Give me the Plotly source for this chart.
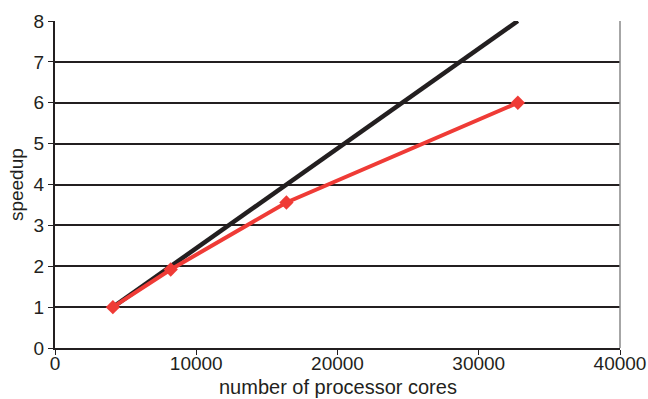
import plotly.graph_objects as go

# Processor core counts and measured / ideal speedup
cores = [4096, 8192, 16384, 32768]
measured_speedup = [1.0, 1.92, 3.56, 6.0]
ideal_cores = [4096, 32768]
ideal_speedup = [1.0, 8.0]

x_ticks = [0, 10000, 20000, 30000, 40000]
y_ticks = [0, 1, 2, 3, 4, 5, 6, 7, 8]

fig = go.Figure()
fig.add_trace(go.Scatter(
    x=ideal_cores, y=ideal_speedup, mode="lines",
    line=dict(color="#231f20", width=4.5), showlegend=False,
))
fig.add_trace(go.Scatter(
    x=cores, y=measured_speedup, mode="lines+markers",
    line=dict(color="#ef3b36", width=4),
    marker=dict(symbol="diamond", size=11, color="#ef3b36"),
    showlegend=False,
))

font_family = "Liberation Sans, Arial, sans-serif"
fig.update_layout(
    width=648, height=399,
    margin=dict(l=55, r=28, t=21, b=51),
    paper_bgcolor="white", plot_bgcolor="white",
    font=dict(family=font_family, color="#231f20", size=19),
    xaxis=dict(
        range=[0, 40000], tickvals=x_ticks, ticktext=[str(v) for v in x_ticks],
        automargin=False,
        showgrid=False, zeroline=False,
        showline=True, linecolor="#231f20", linewidth=2,
        mirror=False, ticks="outside", ticklen=5, tickcolor="#231f20",
        tickfont=dict(size=19), ticklabelstandoff=-8,
    ),
    yaxis=dict(
        range=[0, 8], tickvals=y_ticks,
        automargin=False,
        showgrid=True, gridcolor="#231f20", gridwidth=2,
        zeroline=False,
        showline=True, linecolor="#231f20", linewidth=2,
        ticks="outside", ticklen=5, tickcolor="#231f20",
        tickfont=dict(size=19),
    ),
    annotations=[
        dict(text="number of processor cores", xref="paper", yref="paper",
             x=0.5, y=-0.12, xanchor="center", yanchor="middle",
             showarrow=False, font=dict(size=20)),
        dict(text="speedup", xref="paper", yref="paper",
             x=-0.068, y=0.5, xanchor="center", yanchor="middle",
             textangle=-90, showarrow=False, font=dict(size=19)),
    ],
)
# Thin grey frame on the right side of the plotting area
fig.add_shape(type="line", xref="paper", yref="paper", x0=1, x1=1, y0=0, y1=1,
              line=dict(color="#888888", width=1.5))

fig.write_html("out.html")
